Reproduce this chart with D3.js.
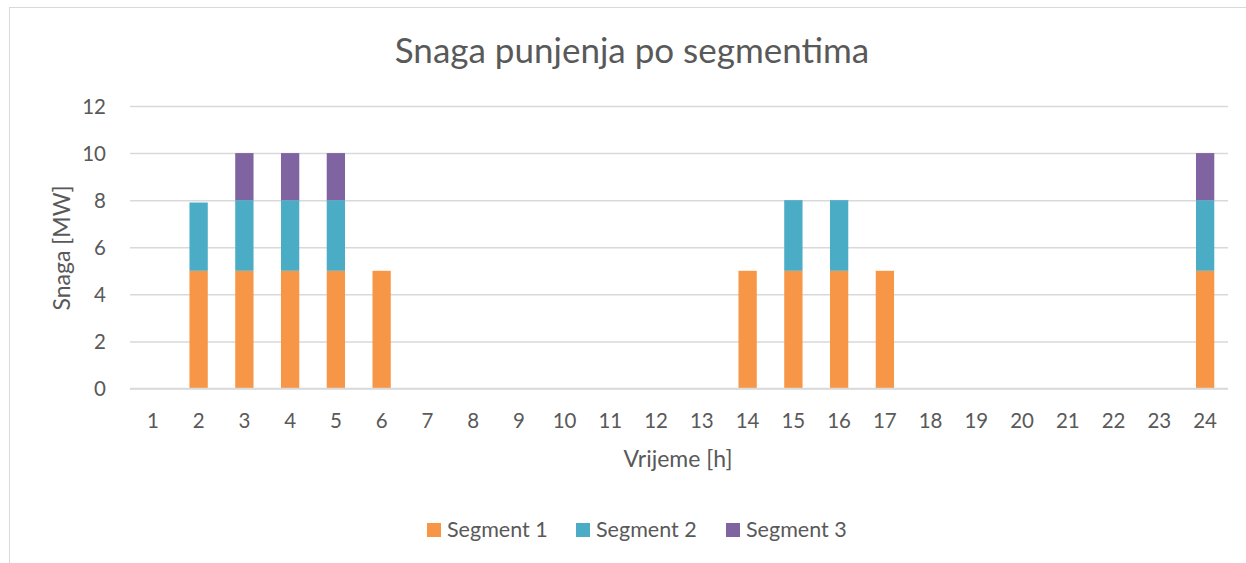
<!DOCTYPE html>
<html>
<head>
<meta charset="utf-8">
<script src="https://cdn.jsdelivr.net/npm/d3@7"></script>
<style>
  html, body { margin: 0; padding: 0; background: #fff; }
  svg { display: block; }
  text { font-family: Lato, "Open Sans", sans-serif; fill: #595959; }
</style>
</head>
<body>
<svg id="chart" width="1246" height="563"></svg>
<script>
const hours = ["1","2","3","4","5","6","7","8","9","10","11","12","13","14","15","16","17","18","19","20","21","22","23","24"];
const segment1 = [0,5,5,5,5,5,0,0,0,0,0,0,0,5,5,5,5,0,0,0,0,0,0,5];
const segment2 = [0,2.9,3,3,3,0,0,0,0,0,0,0,0,0,3,3,0,0,0,0,0,0,0,3];
const segment3 = [0,0,2,2,2,0,0,0,0,0,0,0,0,0,0,0,0,0,0,0,0,0,0,2];
const seriesNames = ["Segment 1","Segment 2","Segment 3"];
const seriesColors = ["#F79646","#4BACC6","#8064A2"];
const yTicks = [0,2,4,6,8,10,12];
const title = "Snaga punjenja po segmentima";
const xTitle = "Vrijeme [h]";
const yTitle = "Snaga [MW]";

const svg = d3.select("#chart");
const plot = { left: 130, right: 1228, top: 106, bottom: 388.5 };

// chart border
svg.append("rect").attr("x", 9.5).attr("y", 7.5).attr("width", 1250).attr("height", 600)
  .attr("fill", "#fff").attr("stroke", "#d9d9d9").attr("stroke-width", 1);

const x = d3.scaleBand().domain(hours).range([plot.left, plot.right]).paddingInner(0.6).paddingOuter(0.3);
const y = d3.scaleLinear().domain([0, 12]).range([plot.bottom, plot.top]);

// gridlines
const yAxis = d3.axisLeft(y).tickValues(yTicks).tickSize(-(plot.right - plot.left)).tickPadding(24);
const gy = svg.append("g").attr("transform", `translate(${plot.left},0)`).call(yAxis);
gy.select(".domain").remove();
gy.selectAll(".tick line").attr("stroke", "#d9d9d9").attr("stroke-width", 1.5);
gy.selectAll(".tick text").attr("font-size", 20.5).attr("fill", "#595959").attr("dy", "0.36em")
  .style("font-family", "Lato, 'Open Sans', sans-serif");

// stacked data
const table = hours.map((h, i) => ({ hour: h, s1: segment1[i], s2: segment2[i], s3: segment3[i] }));
const stack = d3.stack().keys(["s1","s2","s3"]);
const stacked = stack(table);

svg.append("g").selectAll("g").data(stacked).join("g")
  .attr("fill", (d, i) => seriesColors[i])
  .selectAll("rect").data(d => d.filter(v => v[1] - v[0] > 0)).join("rect")
  .attr("x", d => x(d.data.hour))
  .attr("width", x.bandwidth())
  .attr("y", d => y(d[1]))
  .attr("height", d => y(d[0]) - y(d[1]));

// x axis line
svg.append("line").attr("x1", plot.left).attr("x2", plot.right)
  .attr("y1", y(0)).attr("y2", y(0)).attr("stroke", "#d9d9d9").attr("stroke-width", 1.5);

// x tick labels
const xAxis = d3.axisBottom(x).tickSize(0).tickPadding(0);
const gx = svg.append("g").attr("transform", `translate(0,${y(0)})`).call(xAxis);
gx.select(".domain").remove();
gx.selectAll(".tick text").attr("font-size", 20.5).attr("fill", "#595959").attr("dy", null).attr("y", 39)
  .style("font-family", "Lato, 'Open Sans', sans-serif");

// title
svg.append("text").attr("x", 632).attr("y", 63).attr("text-anchor", "middle")
  .attr("font-size", 35).text(title);

// axis titles
svg.append("text").attr("x", 678).attr("y", 467).attr("text-anchor", "middle")
  .attr("font-size", 23).text(xTitle);
svg.append("text").attr("transform", "translate(69.5,248) rotate(-90)").attr("text-anchor", "middle")
  .attr("font-size", 23).text(yTitle);

// legend
const legendX = [427, 576, 726];
const lg = svg.append("g").selectAll("g").data(seriesNames).join("g")
  .attr("transform", (d, i) => `translate(${legendX[i]},523)`);
lg.append("rect").attr("width", 14).attr("height", 14).attr("fill", (d, i) => seriesColors[i]);
lg.append("text").attr("x", 20).attr("y", 14).attr("font-size", 21.5).text(d => d);
</script>
</body>
</html>
